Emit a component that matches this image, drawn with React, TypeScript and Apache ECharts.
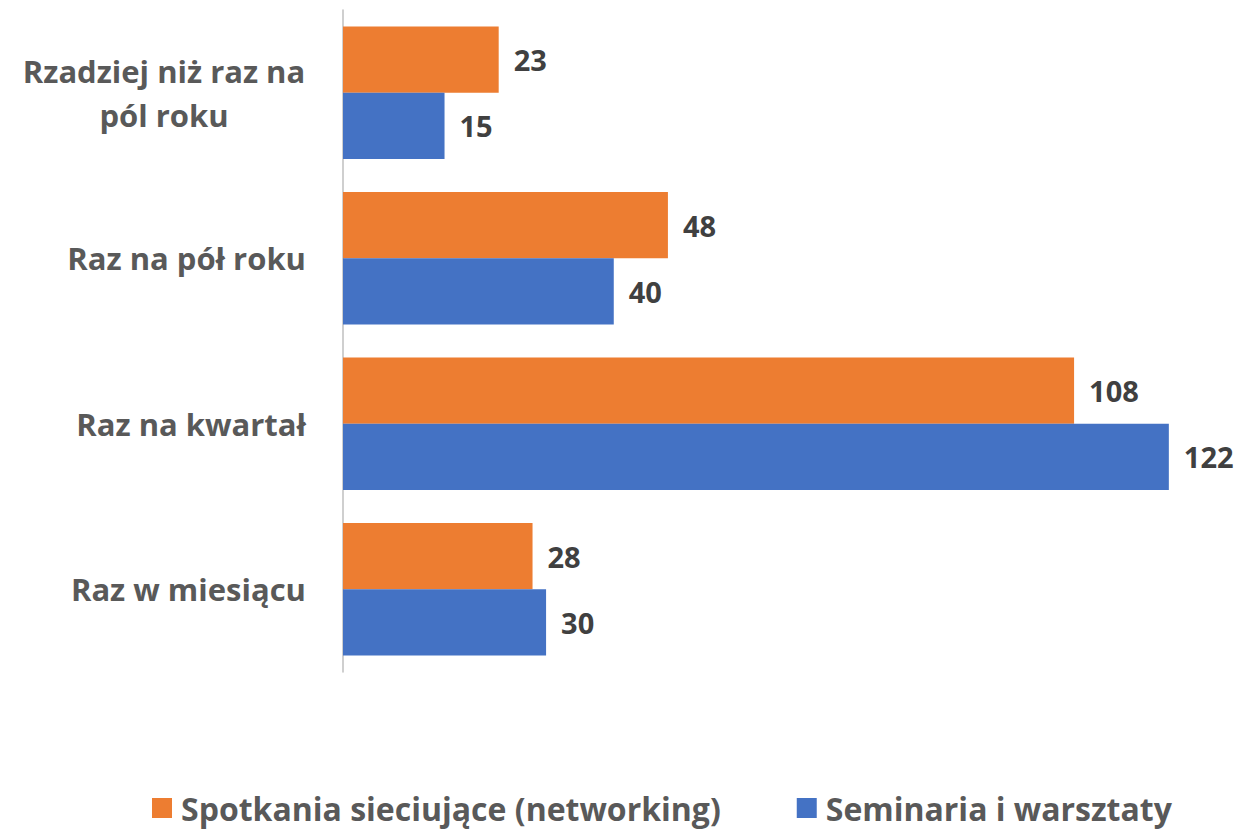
import React, { useEffect, useRef } from "react";
import * as echarts from "echarts";

const categories = [
  "Rzadziej niż raz na\npól roku",
  "Raz na pół roku",
  "Raz na kwartał",
  "Raz w miesiącu",
];
const seriesNames = ["Spotkania sieciujące (networking)", "Seminaria i warsztaty"];
const networking = [23, 48, 108, 28];
const seminaria = [15, 40, 122, 30];

const FONT = "'Open Sans', 'Noto Sans', sans-serif";

export default function App() {
  const ref = useRef<HTMLDivElement>(null);
  useEffect(() => {
    if (!ref.current) return;
    const chart = echarts.init(ref.current, null, { renderer: "svg" });
    const labelStyle = {
      show: true,
      position: "right" as const,
      distance: 15,
      color: "#404040",
      fontFamily: FONT,
      fontWeight: "bold" as const,
      fontSize: 29,
    };
    chart.setOption({
      animation: false,
      backgroundColor: "#ffffff",
      grid: { left: 343, top: 10, width: 880, height: 662, containLabel: false },
      xAxis: {
        type: "value",
        min: 0,
        max: 130,
        show: false,
      },
      yAxis: {
        type: "category",
        data: categories,
        inverse: true,
        axisLine: { show: true, lineStyle: { color: "#bfbfbf", width: 1.5 } },
        axisTick: { show: false },
        axisLabel: {
          margin: 37,
          color: "#595959",
          fontFamily: FONT,
          fontWeight: "bold",
          fontSize: 31,
          lineHeight: 44,
          align: "right",
          formatter: (v: string) =>
            v.includes("\n") ? v.split("\n").map((s) => `{c|${s}}`).join("\n") : v,
          rich: {
            c: {
              width: 284,
              align: "center",
              color: "#595959",
              fontFamily: FONT,
              fontWeight: "bold",
              fontSize: 31,
              lineHeight: 44,
            },
          },
        },
      },
      legend: {
        top: 785,
        left: 147,
        itemWidth: 20,
        itemHeight: 20,
        itemGap: 76,
        icon: "rect",
        textStyle: {
          color: "#595959",
          fontFamily: FONT,
          fontWeight: "bold",
          fontSize: 32,
          lineHeight: 36,
          padding: [0, 0, 0, 4],
        },
        data: seriesNames,
      },
      series: [
        {
          name: seriesNames[0],
          type: "bar",
          data: networking,
          barGap: "0%",
          barCategoryGap: "20%",
          itemStyle: { color: "#ED7D31" },
          label: labelStyle,
        },
        {
          name: seriesNames[1],
          type: "bar",
          data: seminaria,
          barGap: "0%",
          barCategoryGap: "20%",
          itemStyle: { color: "#4472C4" },
          label: labelStyle,
        },
      ],
    });
    return () => chart.dispose();
  }, []);
  return <div ref={ref} style={{ width: 1254, height: 831, position: "absolute", left: 0, top: 0 }} />;
}
